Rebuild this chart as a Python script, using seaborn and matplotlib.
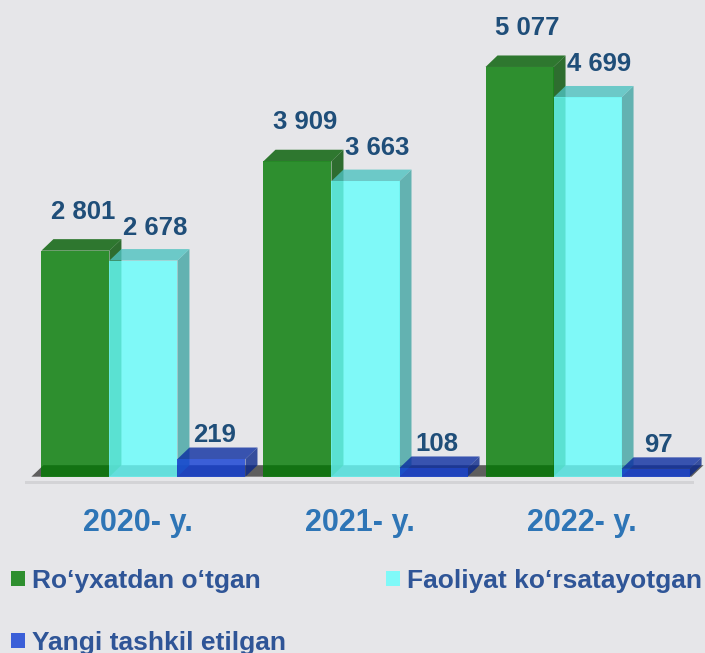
import numpy as np
import pandas as pd
import matplotlib
matplotlib.use("Agg")
import matplotlib.pyplot as plt
import matplotlib.transforms as mtransforms
from matplotlib.patches import Polygon, Patch
import seaborn as sns

# ---- data ----
years = ["2020- y.", "2021- y.", "2022- y."]
series = ["Ro‘yxatdan o‘tgan", "Faoliyat ko‘rsatayotgan", "Yangi tashkil etilgan"]
registered = [2801, 3909, 5077]
active = [2678, 3663, 4699]
new_firms = [219, 108, 97]

colors = ["#007900", "#66FFFC", "#103DD4"]
BG = "#E6E6E9"
ALPHA = 0.8

df = pd.DataFrame({
    "year": years * 3,
    "series": np.repeat(series, len(years)),
    "count": registered + active + new_firms,
})

sns.set_theme(style="white")
plt.rcParams["font.family"] = ["Liberation Sans", "DejaVu Sans"]

fig = plt.figure(figsize=(7.05, 6.53), dpi=100, facecolor=BG)
ax = fig.add_axes([0, 163 / 653, 1, 490 / 653])
ax.set_facecolor(BG)

sns.barplot(data=df, x="year", y="count", hue="series", order=years,
            hue_order=series, palette=colors, saturation=1, width=0.919,
            alpha=ALPHA, linewidth=0, errorbar=None, legend=False, ax=ax)

ax.set_xlim(-0.646, 2.529)
ax.set_ylim(-165, 5907)
for s in ax.spines.values():
    s.set_visible(False)
ax.set_xlabel("")
ax.set_ylabel("")
ax.set_yticks([])

to_px = ax.transData.transform
to_data = ax.transData.inverted().transform

DX, DY = 12.0, 11.5  # depth of the 3-D extrusion in pixels


def shade(c, f):
    r, g, b = matplotlib.colors.to_rgb(c)
    return (r * f, g * f, b * f)


def poly_px(points, **kw):
    return Polygon(to_data(np.array(points)), closed=True, linewidth=0, **kw)


# bars sorted left-to-right so translucent faces stack properly
bars = []
for si, cont in enumerate(ax.containers):
    for p in cont.patches:
        bars.append((p.get_x(), si, p))
bars.sort(key=lambda t: t[0])

for i, (_, si, p) in enumerate(bars):
    x0, w, h = p.get_x(), p.get_width(), p.get_height()
    (lx, by), (rx, ty) = to_px([(x0, 0), (x0 + w, h)])
    z = 3 + i * 0.1
    side = poly_px([(rx, by), (rx + DX, by + DY), (rx + DX, ty + DY), (rx, ty)],
                   facecolor=shade(colors[si], 0.65), alpha=ALPHA, zorder=z)
    top = poly_px([(lx, ty), (rx, ty), (rx + DX, ty + DY), (lx + DX, ty + DY)],
                  facecolor=shade(colors[si], 0.76), alpha=ALPHA, zorder=z + 0.01)
    ax.add_patch(side)
    ax.add_patch(top)
    p.set_zorder(z + 0.02)

# floor slab under the bars
first = bars[0][2]
last = bars[-1][2]
(fl, fb), = to_px([(first.get_x(), 0)])
(fr, _), = to_px([(last.get_x() + last.get_width(), 0)])
ax.add_patch(poly_px([(fl - 10, fb), (fr + 2, fb), (fr + 2 + DX, fb + DY), (fl - 10 + DX, fb + DY)],
                     facecolor="#5E5E5E", zorder=1))
ax.add_patch(poly_px([(fl - 16, fb - 4.5), (fr + 4, fb - 4.5), (fr + 4, fb - 7.5), (fl - 16, fb - 7.5)],
                     facecolor="#D3D3D6", zorder=1, clip_on=False))

# value labels
label_offsets = [(8, 32), (12, 26), (3, 17)]  # pixels right / above the bar front top
values = [registered, active, new_firms]
for si, cont in enumerate(ax.containers):
    ox, oy = label_offsets[si]
    for p, v in zip(cont.patches, values[si]):
        ax.annotate(f"{v:,}".replace(",", " "),
                    xy=(p.get_x() + p.get_width() / 2, p.get_height()),
                    xytext=(ox * 0.72, oy * 0.72), textcoords="offset points",
                    ha="center", va="baseline", fontsize=18.5, fontweight="bold",
                    color="#1F4E79", zorder=20)

# category labels
ax.tick_params(axis="x", length=0, pad=13, labelsize=22, labelcolor="#2E75B6")
shift = mtransforms.ScaledTranslation(-6 / 100, 0, fig.dpi_scale_trans)
for lab in ax.get_xticklabels():
    lab.set_fontweight("bold")
    lab.set_transform(lab.get_transform() + shift)

# legend: two columns, first row holds the first two series
handles = [Patch(facecolor=c, alpha=ALPHA, edgecolor="none") for c in colors]
order = [0, 2, 1]
fig.legend([handles[i] for i in order], [series[i] for i in order], ncol=2,
           loc="upper left", bbox_to_anchor=(11 / 705, 1 - 569 / 653),
           frameon=False, prop=dict(size=19, weight="bold"), labelcolor="#2F5597",
           handlelength=0.53, handleheight=0.53, handletextpad=0.27,
           columnspacing=3.8, labelspacing=1.43, borderpad=0, borderaxespad=0)

fig.savefig("out.png", dpi=100, facecolor=BG)
